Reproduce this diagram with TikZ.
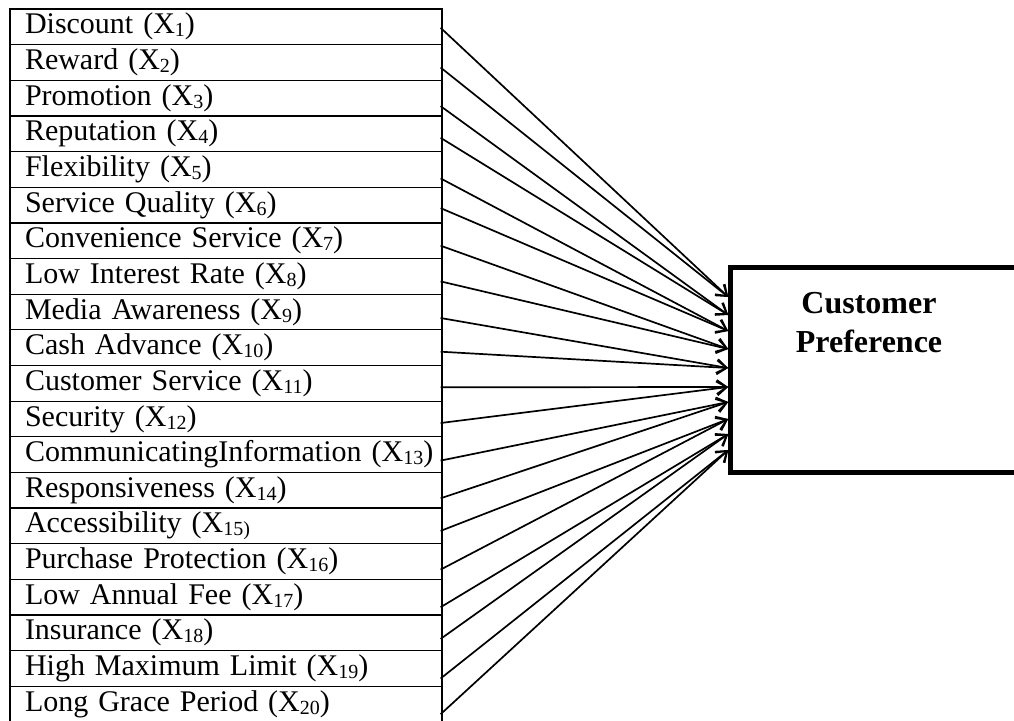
\documentclass[tikz,border=0pt]{standalone}
\usepackage{fontspec}
\setmainfont{Liberation Serif}
\usetikzlibrary{arrows.meta}

\newcommand{\xsub}[1]{\raisebox{-3pt}{\fontsize{20}{20}\selectfont #1}}

\tikzset{
  factor/.style={draw, line width=1.2pt, minimum width=432pt, minimum height=35.65pt,
    text width=402pt, inner xsep=15pt, inner ysep=0pt, align=left,
    text height=20pt, text depth=6pt, font=\fontsize{30}{34}\selectfont},
  link/.style={line width=1.7pt, -{Straight Barb[length=10pt,width=14pt]}},
  outcome/.style={draw, line width=4.5pt, minimum width=300pt, minimum height=205pt},
}

\begin{document}
\begin{tikzpicture}[x=1pt, y=-1pt]
        \useasboundingbox (0,0) rectangle (1014,720);
        % factors
        \node[factor] (r1) at (226, 26.8) {Discount (X\xsub{1})};
        \node[factor] (r2) at (226, 62.5) {Reward (X\xsub{2})};
        \node[factor] (r3) at (226, 98.1) {Promotion (X\xsub{3})};
        \node[factor] (r4) at (226, 133.8) {Reputation (X\xsub{4})};
        \node[factor] (r5) at (226, 169.4) {Flexibility (X\xsub{5})};
        \node[factor] (r6) at (226, 205.1) {Service Quality (X\xsub{6})};
        \node[factor] (r7) at (226, 240.7) {Convenience Service (X\xsub{7})};
        \node[factor] (r8) at (226, 276.4) {Low Interest Rate (X\xsub{8})};
        \node[factor] (r9) at (226, 312.0) {Media Awareness (X\xsub{9})};
        \node[factor] (r10) at (226, 347.7) {Cash Advance (X\xsub{10})};
        \node[factor] (r11) at (226, 383.3) {Customer Service (X\xsub{11})};
        \node[factor] (r12) at (226, 419.0) {Security (X\xsub{12})};
        \node[factor] (r13) at (226, 454.6) {\mbox{CommunicatingInformation (X\xsub{13})}};
        \node[factor] (r14) at (226, 490.3) {Responsiveness (X\xsub{14})};
        \node[factor] (r15) at (226, 525.9) {Accessibility (X\xsub{15)}};
        \node[factor] (r16) at (226, 561.6) {Purchase Protection (X\xsub{16})};
        \node[factor] (r17) at (226, 597.2) {Low Annual Fee (X\xsub{17})};
        \node[factor] (r18) at (226, 632.9) {Insurance (X\xsub{18})};
        \node[factor] (r19) at (226, 668.5) {High Maximum Limit (X\xsub{19})};
        \node[factor] (r20) at (226, 704.2) {Long Grace Period (X\xsub{20})};
        % dependent variable
        \node[outcome] (cp) at (880.5, 370) {};
        \node[font=\fontsize{32}{39}\selectfont\bfseries, align=center] (cplabel) at (869, 323) {Customer\\Preference};
        % arrows
        \draw[link] ([shift={(-2,1)}]r1.east) -- (cp.west |- 0,297);
        \draw[link] ([shift={(-2,5)}]r2.east) -- (cp.west |- 0,297);
        \draw[link] ([shift={(-2,8)}]r3.east) -- (cp.west |- 0,315);
        \draw[link] ([shift={(-2,4)}]r4.east) -- (cp.west |- 0,315);
        \draw[link] ([shift={(-2,9)}]r5.east) -- (cp.west |- 0,331);
        \draw[link] ([shift={(-2,3)}]r6.east) -- (cp.west |- 0,331);
        \draw[link] ([shift={(-2,5)}]r7.east) -- (cp.west |- 0,349);
        \draw[link] ([shift={(-2,5)}]r8.east) -- (cp.west |- 0,349);
        \draw[link] ([shift={(-2,6)}]r9.east) -- (cp.west |- 0,368);
        \draw[link] ([shift={(-2,4)}]r10.east) -- (cp.west |- 0,368);
        \draw[link] ([shift={(-2,4)}]r11.east) -- (cp.west |- 0,387);
        \draw[link] ([shift={(-2,4)}]r12.east) -- (cp.west |- 0,387);
        \draw[link] ([shift={(-2,6)}]r13.east) -- (cp.west |- 0,402);
        \draw[link] ([shift={(-2,8)}]r14.east) -- (cp.west |- 0,402);
        \draw[link] ([shift={(-2,5)}]r15.east) -- (cp.west |- 0,419);
        \draw[link] ([shift={(-2,8)}]r16.east) -- (cp.west |- 0,419);
        \draw[link] ([shift={(-2,10)}]r17.east) -- (cp.west |- 0,434);
        \draw[link] ([shift={(-2,6)}]r18.east) -- (cp.west |- 0,434);
        \draw[link] ([shift={(-2,10)}]r19.east) -- (cp.west |- 0,450);
        \draw[link] ([shift={(-2,10)}]r20.east) -- (cp.west |- 0,450);
    \end{tikzpicture}
\end{document}
